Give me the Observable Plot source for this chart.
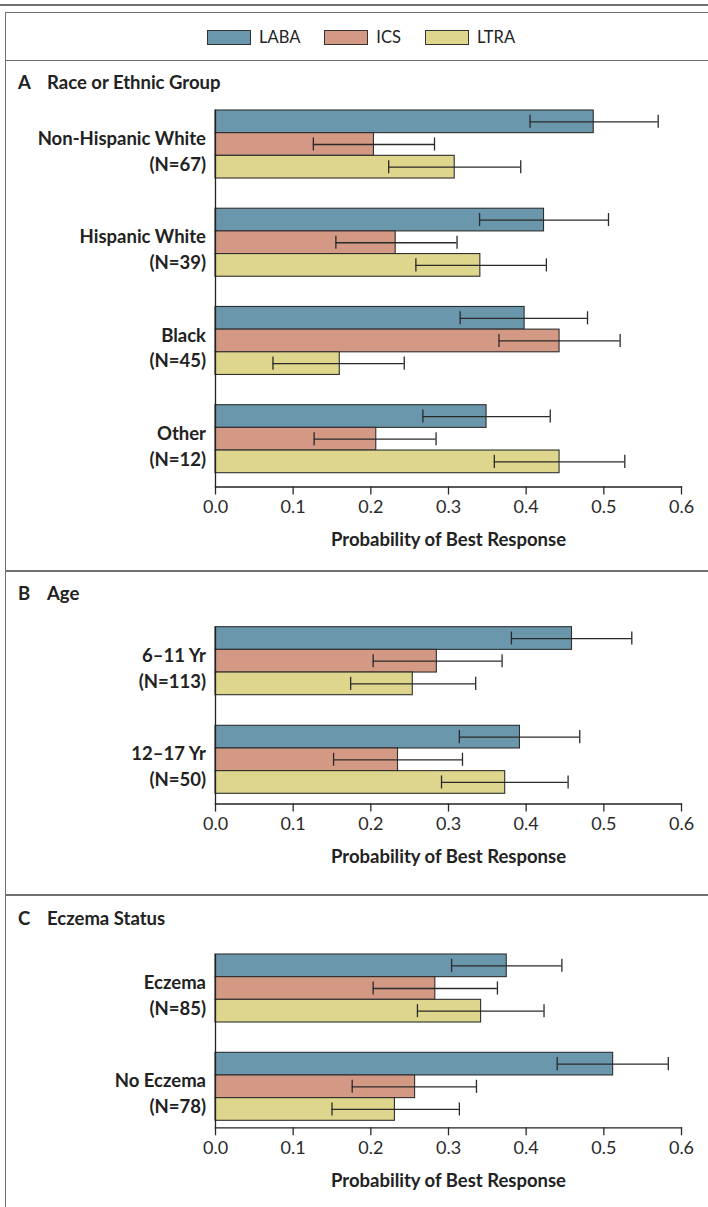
<!DOCTYPE html>
<html><head><meta charset="utf-8">
<script src="https://cdn.jsdelivr.net/npm/d3@7"></script>
<script src="https://cdn.jsdelivr.net/npm/@observablehq/plot@0.6"></script>
<style>
html,body{margin:0;padding:0;background:#fff;}
body{width:708px;height:1207px;position:relative;overflow:hidden;font-family:Lato,"Noto Sans",sans-serif;color:#222;}
.line{position:absolute;background:#6f6f6f;}
.ptitle{position:absolute;left:18px;font-weight:bold;font-size:18.5px;line-height:20px;white-space:nowrap;}
.ptitle span{display:inline-block;width:29px;}
.legend{position:absolute;top:26px;left:207px;display:flex;align-items:center;font-size:16.5px;line-height:22px;}
.legend .sw{width:42px;height:13px;border:1px solid #333;margin-right:8px;}
.legend .lab{margin-right:24px;}
.chart{position:absolute;left:0;}
.chart svg{overflow:visible;}
</style></head><body>
<script>
// ---------- data ----------
const series = ["LABA", "ICS", "LTRA"];
const seriesColors = ["#6a97ac", "#d39984", "#ddd68c"];
const xTicks = [0, 0.1, 0.2, 0.3, 0.4, 0.5, 0.6];
const axisTitle = "Probability of Best Response";

const raceGroups = ["Non-Hispanic White", "Hispanic White", "Black", "Other"];
const raceN = [67, 39, 45, 12];
const raceLABA = [0.487, 0.423, 0.398, 0.349];
const raceLABACI = [[0.405, 0.570], [0.340, 0.506], [0.315, 0.479], [0.267, 0.431]];
const raceICS = [0.204, 0.232, 0.443, 0.207];
const raceICSCI = [[0.126, 0.282], [0.155, 0.311], [0.365, 0.521], [0.127, 0.284]];
const raceLTRA = [0.308, 0.341, 0.160, 0.443];
const raceLTRACI = [[0.223, 0.393], [0.258, 0.426], [0.074, 0.243], [0.359, 0.527]];

const ageGroups = ["6\u201311 Yr", "12\u201317 Yr"];
const ageN = [113, 50];
const ageLABA = [0.459, 0.392];
const ageLABACI = [[0.381, 0.536], [0.314, 0.469]];
const ageICS = [0.285, 0.235];
const ageICSCI = [[0.203, 0.369], [0.152, 0.318]];
const ageLTRA = [0.254, 0.373];
const ageLTRACI = [[0.174, 0.335], [0.291, 0.454]];

const eczGroups = ["Eczema", "No Eczema"];
const eczN = [85, 78];
const eczLABA = [0.375, 0.512];
const eczLABACI = [[0.304, 0.446], [0.440, 0.583]];
const eczICS = [0.283, 0.257];
const eczICSCI = [[0.203, 0.363], [0.176, 0.336]];
const eczLTRA = [0.342, 0.231];
const eczLTRACI = [[0.260, 0.423], [0.150, 0.314]];

const panelLetters = ["A", "B", "C"];
const panelTitles = ["Race or Ethnic Group", "Age", "Eczema Status"];

// ---------- frame ----------
function addLine(l, t, w, h) {
  const d = document.createElement("div");
  d.className = "line";
  Object.assign(d.style, {left: l + "px", top: t + "px", width: w + "px", height: h + "px"});
  document.body.appendChild(d);
}
addLine(0, 4, 708, 2);
addLine(4.5, 11.5, 704, 1.5);
addLine(4.5, 11.5, 1.6, 1200);
addLine(4.5, 59.5, 704, 1.8);
addLine(4.5, 570, 704, 1.8);
addLine(4.5, 894.3, 704, 1.8);

// legend
const leg = document.createElement("div");
leg.className = "legend";
series.forEach((s, i) => {
  const sw = document.createElement("div");
  sw.className = "sw"; sw.style.background = seriesColors[i];
  const lab = document.createElement("div");
  lab.className = "lab"; lab.textContent = s;
  leg.appendChild(sw); leg.appendChild(lab);
});
document.body.appendChild(leg);

// panel titles
const titleTops = [71.5, 583.3, 908.3];
panelTitles.forEach((t, i) => {
  const d = document.createElement("div");
  d.className = "ptitle";
  d.style.top = titleTops[i] + "px";
  d.innerHTML = `<span>${panelLetters[i]}</span>`;
  d.appendChild(document.createTextNode(t));
  document.body.appendChild(d);
});

// ---------- charts ----------
function rowsFor(groups, ns, vals, cis) {
  const labels = groups.map((g, i) => `${g}\n(N=${ns[i]})`);
  const rows = [];
  labels.forEach((lab, i) => {
    series.forEach((s, j) => {
      rows.push({group: lab, series: s, value: vals[j][i], lo: cis[j][i][0], hi: cis[j][i][1]});
    });
  });
  return {labels, rows};
}

function panel({groups, ns, vals, cis, plotTop, axisY, barTop, barBottom}) {
  const {labels, rows} = rowsFor(groups, ns, vals, cis);
  const mTop = 8, mBottom = 78.5;
  const h = axisY - plotTop;
  const n = labels.length;
  const b = 68;                       // three bars
  const e = axisY - barBottom;        // gap under last group
  const B = b + e;                    // facet band
  const s = (barBottom - barTop - b) / (n - 1);
  const pi = (s - B) / s;
  const po = (h / s - n + pi) / 2;
  const poy = (B / (b / 3) - 3) / 2;
  const chart = Plot.plot({
    width: 708,
    height: mTop + h + mBottom,
    marginLeft: 215,
    marginRight: 27,
    marginTop: mTop,
    marginBottom: mBottom,
    style: {fontFamily: "Lato, 'Noto Sans', sans-serif", fontSize: "16px", color: "#222", background: "transparent"},
    x: {domain: [0, 0.6], axis: null},
    y: {domain: series, paddingInner: 0, paddingOuter: poy, align: 0, round: false, axis: null},
    fy: {domain: labels, paddingInner: pi, paddingOuter: po, align: 1, round: false, axis: null, label: null},
    color: {domain: series, range: seriesColors},
    marks: [
      Plot.barX(rows, {fy: "group", y: "series", x1: 0, x2: "value", fill: "series", stroke: "#2e2e2e", strokeWidth: 1.1}),
      Plot.ruleY(rows, {fy: "group", y: "series", x1: "lo", x2: "hi", stroke: "#2a2a2a", strokeWidth: 1.3}),
      Plot.tickX(rows, {fy: "group", y: "series", x: "lo", stroke: "#2a2a2a", strokeWidth: 1.3, insetTop: 4.8, insetBottom: 4.8}),
      Plot.tickX(rows, {fy: "group", y: "series", x: "hi", stroke: "#2a2a2a", strokeWidth: 1.3, insetTop: 4.8, insetBottom: 4.8}),
      Plot.text(labels, {fy: d => d, text: d => d, frameAnchor: "left", textAnchor: "end", dx: -9.5, dy: b / 2 + 5.3 - B / 2, lineHeight: 1.39, fontWeight: "bold", fontSize: 18.5, fill: "#222"}),
      Plot.frame({facet: "super", anchor: "left", stroke: "#222", strokeWidth: 1.3}),
      Plot.frame({facet: "super", anchor: "bottom", stroke: "#222", strokeWidth: 1.3}),
      Plot.axisX({anchor: "bottom", ticks: xTicks, tickFormat: d => d.toFixed(1), tickSize: 8, tickPadding: 5.5, strokeWidth: 1.3, color: "#2a2a2a", fontSize: 18, label: null}),
      Plot.text([axisTitle], {facet: "super", frameAnchor: "bottom", lineAnchor: "middle", text: d => d, dy: 53.5, fontWeight: "bold", fontSize: 18.5, fill: "#222"})
    ]
  });
  const wrap = document.createElement("div");
  wrap.className = "chart";
  wrap.style.top = (plotTop - mTop) + "px";
  wrap.appendChild(chart);
  document.body.appendChild(wrap);
}

panel({groups: raceGroups, ns: raceN, vals: [raceLABA, raceICS, raceLTRA], cis: [raceLABACI, raceICSCI, raceLTRACI],
  plotTop: 103, axisY: 486.5, barTop: 110, barBottom: 472.7});
panel({groups: ageGroups, ns: ageN, vals: [ageLABA, ageICS, ageLTRA], cis: [ageLABACI, ageICSCI, ageLTRACI],
  plotTop: 616, axisY: 803.5, barTop: 626.7, barBottom: 793.3});
panel({groups: eczGroups, ns: eczN, vals: [eczLABA, eczICS, eczLTRA], cis: [eczLABACI, eczICSCI, eczLTRACI],
  plotTop: 940, axisY: 1127.3, barTop: 954, barBottom: 1120.3});
</script>
</body></html>
